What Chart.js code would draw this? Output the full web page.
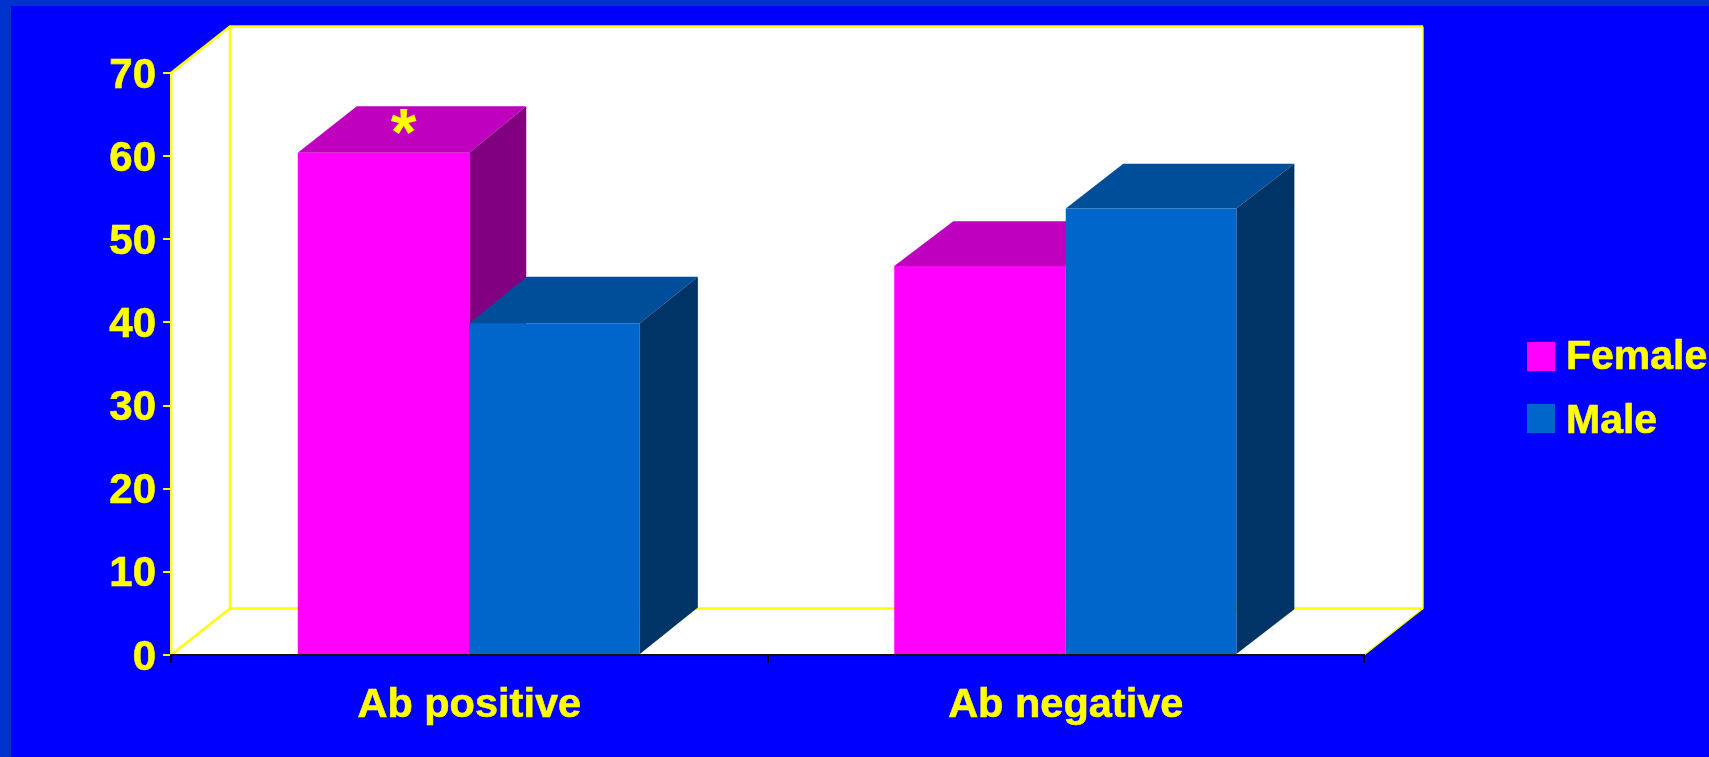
<!DOCTYPE html>
<html>
<head>
<meta charset="utf-8">
<title>Ab status by sex</title>
<script src="https://cdn.jsdelivr.net/npm/chart.js@4"></script>
<style>
  html, body { margin: 0; padding: 0; background: #0000ff; overflow: hidden; }
  canvas { display: block; }
</style>
</head>
<body>
<canvas id="chart" width="1709" height="757"></canvas>
<script>
// Values and labels
const categories = ['Ab positive', 'Ab negative'];
const female = [60.4, 46.8];
const male = [39.9, 53.7];
const femaleMarks = ['*', ''];
const maleMarks = ['', ''];

// Colours
const YELLOW = '#ffff00';
const FONT = '"Liberation Sans", Arial, sans-serif';
const faces = {
  Female: { front: '#ff00ff', top: '#bf00bf', side: '#800080', backLeft: 59, backRight: 57 },
  Male:   { front: '#0066cc', top: '#004d99', side: '#003366', backLeft: 57.5, backRight: 58 }
};

// Depth of the pseudo-3D box: walls, then the rise of bars per category
const WALL_DX = 59, WALL_DY = 46.5;
const BAR_RISE = [46.5, 44.7];

function poly(ctx, pts, fill) {
  ctx.beginPath();
  pts.forEach((p, i) => i ? ctx.lineTo(p[0], p[1]) : ctx.moveTo(p[0], p[1]));
  ctx.closePath();
  ctx.fillStyle = fill;
  ctx.fill();
}
function line(ctx, pts, color, w) {
  ctx.beginPath();
  pts.forEach((p, i) => i ? ctx.lineTo(p[0], p[1]) : ctx.moveTo(p[0], p[1]));
  ctx.strokeStyle = color;
  ctx.lineWidth = w;
  ctx.stroke();
}

// Slide background with its darker top and left band, plus the white 3D walls
const wallsPlugin = {
  id: 'walls',
  beforeDraw(chart) {
    const { ctx, width, height, scales: { x, y } } = chart;
    const l = x.left, r = x.right, b = y.getPixelForValue(0), t = y.getPixelForValue(70);
    const dx = WALL_DX, dy = WALL_DY;
    ctx.save();
    ctx.fillStyle = '#0033cc';
    ctx.fillRect(0, 0, width, height);
    ctx.fillStyle = '#0000ff';
    ctx.fillRect(11, 6, width - 11, height - 6);
    poly(ctx, [[l, b], [l, t], [l + dx, t - dy], [r + dx, t - dy], [r + dx, b - dy], [r, b]], '#ffffff');
    line(ctx, [[l, t], [l + dx, t - dy], [r + dx, t - dy]], YELLOW, 2.4);
    line(ctx, [[r + dx, t - dy], [r + dx, b - dy], [r, b]], YELLOW, 1.4);
    line(ctx, [[l + dx, t - dy], [l + dx, b - dy], [r + dx, b - dy]], YELLOW, 2.4);
    line(ctx, [[l, b], [l + dx, b - dy]], YELLOW, 2.4);
    ctx.restore();
  }
};

// Top and side faces of each bar, painted under the bars' front faces
const barDepthPlugin = {
  id: 'barDepth',
  beforeDatasetsDraw(chart) {
    const { ctx } = chart;
    ctx.save();
    chart.data.labels.forEach((_, i) => {
      chart.data.datasets.forEach((ds, d) => {
        const bar = chart.getDatasetMeta(d).data[i];
        const hw = bar.width / 2;
        const L = bar.x - hw, R = bar.x + hw, T = bar.y, B = bar.base;
        const c = faces[ds.label];
        const rise = BAR_RISE[i];
        poly(ctx, [[L, T], [L + c.backLeft, T - rise], [R + c.backRight, T - rise], [R, T]], c.top);
        poly(ctx, [[R, T], [R + c.backRight, T - rise], [R + c.backRight, B - rise], [R, B]], c.side);
      });
    });
    ctx.restore();
  }
};

// Significance mark sitting on the top face of a bar, and the legend at the right
const overlayPlugin = {
  id: 'overlay',
  afterDraw(chart) {
    const { ctx } = chart;
    ctx.save();
    ctx.fillStyle = YELLOW;
    ctx.strokeStyle = YELLOW;
    ctx.lineWidth = 0.6;
    ctx.lineJoin = 'round';
    ctx.textAlign = 'center';
    ctx.textBaseline = 'alphabetic';
    ctx.font = 'bold 66px ' + FONT;
    chart.data.datasets.forEach((ds, d) => {
      ds.marks.forEach((m, i) => {
        if (!m) return;
        const bar = chart.getDatasetMeta(d).data[i];
        ctx.fillText(m, bar.x + 20, bar.y + 2);
      });
    });
    ctx.textAlign = 'left';
    ctx.font = 'bold 41px ' + FONT;
    chart.data.datasets.forEach((ds, d) => {
      const top = 342 + d * 62;
      const baseline = 369 + d * 63.5;
      ctx.fillStyle = ds.backgroundColor;
      ctx.fillRect(1527, top, 28, 29);
      ctx.fillStyle = YELLOW;
      ctx.fillText(ds.label, 1566, baseline);
      ctx.strokeText(ds.label, 1566, baseline);
    });
    ctx.restore();
  }
};

new Chart(document.getElementById('chart'), {
  type: 'bar',
  data: {
    labels: categories,
    datasets: [
      { label: 'Female', data: female, marks: femaleMarks, backgroundColor: faces.Female.front,
        categoryPercentage: 0.575, barPercentage: 1 },
      { label: 'Male', data: male, marks: maleMarks, backgroundColor: faces.Male.front,
        categoryPercentage: 0.572, barPercentage: 1 }
    ]
  },
  plugins: [wallsPlugin, barDepthPlugin, overlayPlugin],
  options: {
    responsive: false,
    animation: false,
    devicePixelRatio: 1,
    layout: { autoPadding: false, padding: { top: 73, right: 345, left: 0, bottom: 0 } },
    plugins: { legend: { display: false }, tooltip: { enabled: false } },
    scales: {
      x: {
        afterFit(s) { s.height = 102; },
        grid: { drawOnChartArea: false, drawTicks: true, tickLength: 8, color: '#000000', lineWidth: 2, z: 1 },
        border: { color: '#111111', width: 2, z: 1 },
        ticks: { color: YELLOW, padding: 18, maxRotation: 0, textStrokeColor: YELLOW, textStrokeWidth: 0.6,
                 font: { family: FONT, size: 41.5, weight: 'bold' } }
      },
      y: {
        min: 0, max: 70,
        afterFit(s) { s.width = 171; },
        grid: { drawOnChartArea: false, drawTicks: true, tickLength: 8, color: YELLOW, lineWidth: 2 },
        border: { color: YELLOW, width: 2.4 },
        ticks: { stepSize: 10, color: YELLOW, padding: 7, labelOffset: 3, textStrokeColor: YELLOW, textStrokeWidth: 0.6,
                 font: { family: FONT, size: 42, weight: 'bold' } }
      }
    }
  }
});
</script>
</body>
</html>
